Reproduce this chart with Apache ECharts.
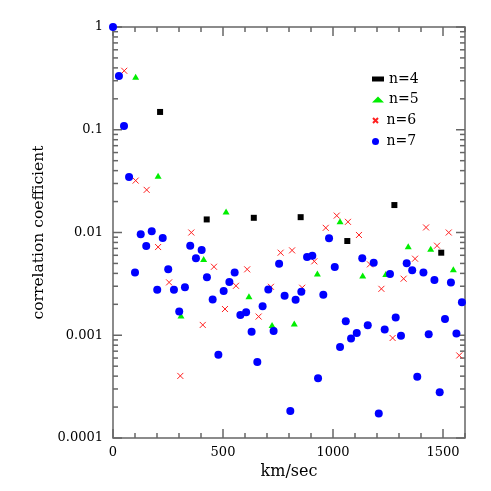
<!DOCTYPE html>
<html><head><meta charset="utf-8">
<script src="https://cdn.jsdelivr.net/npm/echarts@6/dist/echarts.min.js"></script>
<style>html,body{margin:0;padding:0;background:#fff}#c{width:491px;height:491px}</style>
</head><body><div id="c"></div>
<script>
// ---- data ----
const xN4 = [214, 426, 640, 853, 1065, 1279, 1492];
const yN4 = [0.149, 0.0134, 0.0139, 0.0141, 0.00826, 0.0185, 0.00636];

const xN5 = [103, 205, 309, 412, 514, 618, 723, 824, 929, 1032, 1135, 1240, 1342, 1444, 1547];
const yN5 = [0.328, 0.0356, 0.00156, 0.00552, 0.016, 0.00239, 0.00126, 0.0013, 0.004, 0.0129, 0.00382, 0.00394, 0.00734, 0.00695, 0.00438];

const xN6 = [51, 103, 153, 205, 255, 306, 356, 408, 459, 509, 559, 610, 662, 718, 762, 814, 860, 915, 967, 1017, 1068, 1118, 1168, 1220, 1271, 1321, 1373, 1423, 1473, 1526, 1574];
const yN6 = [0.375, 0.032, 0.026, 0.00722, 0.00327, 0.000402, 0.01, 0.00126, 0.00464, 0.0018, 0.00303, 0.00438, 0.00152, 0.00296, 0.00636, 0.0067, 0.0029, 0.00524, 0.0111, 0.0146, 0.0127, 0.00946, 0.0049, 0.00283, 0.00094, 0.00355, 0.00556, 0.0112, 0.00744, 0.01, 0.000636];

const xN7 = [0, 27, 50, 73, 100, 126, 151, 176, 201, 226, 251, 277, 301, 327, 351, 377, 403, 427, 453, 479, 503, 529, 553, 579, 605, 630, 656, 680, 706, 730, 755, 780, 806, 830, 856, 882, 906, 932, 956, 982, 1008, 1032, 1058, 1082, 1108, 1133, 1158, 1185, 1208, 1235, 1259, 1285, 1309, 1335, 1360, 1383, 1411, 1435, 1461, 1485, 1509, 1536, 1561, 1586];
const yN7 = [1, 0.333, 0.109, 0.0347, 0.00409, 0.0096, 0.00738, 0.0103, 0.00277, 0.00883, 0.00438, 0.00277, 0.0017, 0.00294, 0.00743, 0.0056, 0.00675, 0.00366, 0.00223, 0.000645, 0.00269, 0.0033, 0.00409, 0.00157, 0.00167, 0.00108, 0.00055, 0.00192, 0.00279, 0.0011, 0.00496, 0.00242, 0.000183, 0.00221, 0.00265, 0.00577, 0.00594, 0.000382, 0.00248, 0.00878, 0.00461, 0.00077, 0.00137, 0.00093, 0.00105, 0.0056, 0.00125, 0.00508, 0.000173, 0.00114, 0.00394, 0.00149, 0.00099, 0.00501, 0.00428, 0.000394, 0.00409, 0.00102, 0.00344, 0.000279, 0.00144, 0.00327, 0.00104, 0.00209];

const seriesNames = ['n=4', 'n=5', 'n=6', 'n=7'];

// ---- axis ranges, ticks, labels ----
const xRange = [0, 1600];
const yRange = [0.0001, 1];
const xMajorTicks = [0, 500, 1000, 1500];
const xMinorTicks = [100, 200, 300, 400, 600, 700, 800, 900, 1100, 1200, 1300, 1400, 1600];
const yMajorTicks = [0.0001, 0.001, 0.01, 0.1, 1];
const yTickLabels = ['0.0001', '0.001', '0.01', '0.1', '1'];
const yMinorMultipliers = [2, 3, 4, 5, 6, 7, 8, 9];
const yDecades = [0.0001, 0.001, 0.01, 0.1];

const FONT = 'DejaVu Serif';
const AXIS_COLOR = '#666666';
const MAJOR_LEN = 9, MINOR_LEN = 5;

const zip = (xs, ys) => xs.map((x, i) => [x, ys[i]]);
const yMinorTicks = [];
yDecades.forEach(d => yMinorMultipliers.forEach(m => yMinorTicks.push(m * d)));

function yLabel(v) {
  const e = Math.round(Math.log10(v));
  const i = yMajorTicks.findIndex(t => Math.round(Math.log10(t)) === e);
  return i >= 0 ? yTickLabels[i] : '';
}

const labelStyle = { color: '#000', fontFamily: FONT, fontSize: 13 };

// inside ticks on all four sides, positioned through the axes' scales (api.coord)
const xTickValues = xMajorTicks.concat(xMinorTicks);
const xTickLens = xMajorTicks.map(() => MAJOR_LEN).concat(xMinorTicks.map(() => MINOR_LEN));
const yTickValues = yMajorTicks.concat(yMinorTicks);
const yTickLens = yMajorTicks.map(() => MAJOR_LEN).concat(yMinorTicks.map(() => MINOR_LEN));
const xTickData = xTickValues.map(v => [v, yRange[0]]);
const yTickData = yTickValues.map(v => [xRange[0], v]);

function tickLine(x1, y1, x2, y2) {
  return { type: 'line', z2: 10, shape: { x1, y1, x2, y2 },
           style: { stroke: AXIS_COLOR, lineWidth: 1.5, fill: null } };
}
function renderXTick(params, api) {
  const x = xTickValues[params.dataIndex], len = xTickLens[params.dataIndex];
  const b = api.coord([x, yRange[0]]);
  const t = api.coord([x, yRange[1]]);
  return { type: 'group', children: [
    tickLine(b[0], b[1], b[0], b[1] - len),
    tickLine(t[0], t[1], t[0], t[1] + len)
  ] };
}
function renderYTick(params, api) {
  const y = yTickValues[params.dataIndex], len = yTickLens[params.dataIndex];
  const l = api.coord([xRange[0], y]);
  const r = api.coord([xRange[1], y]);
  return { type: 'group', children: [
    tickLine(l[0], l[1], l[0] + len, l[1]),
    tickLine(r[0], r[1], r[0] - len, r[1])
  ] };
}

const legendSizes = [5, 6, 5, 7];
const legendTops = [66, 86.5, 107.5, 128.5];

const chart = echarts.init(document.getElementById('c'), null, { renderer: 'canvas' });
chart.setOption({
  animation: false,
  backgroundColor: '#ffffff',
  grid: { left: 113, right: 26, top: 27, bottom: 53, containLabel: false, outerBoundsMode: 'none',
          show: true, borderColor: AXIS_COLOR, borderWidth: 1.5, backgroundColor: 'transparent' },
  xAxis: {
    type: 'value', position: 'bottom', min: xRange[0], max: xRange[1],
    axisLine: { show: false, onZero: false },
    axisTick: { show: false },
    axisLabel: Object.assign({ show: true, margin: 8, customValues: xMajorTicks, formatter: v => String(v) }, labelStyle),
    splitLine: { show: false },
    name: 'km/sec', nameLocation: 'middle', nameGap: 26,
    nameTextStyle: { color: '#000', fontFamily: FONT, fontSize: 16 }
  },
  yAxis: {
    type: 'log', logBase: 10, position: 'left', min: yRange[0], max: yRange[1],
    axisLine: { show: false, onZero: false },
    axisTick: { show: false },
    axisLabel: Object.assign({ show: true, margin: 10, formatter: yLabel }, labelStyle),
    splitLine: { show: false }, minorTick: { show: false },
    name: 'correlation coefficient', nameLocation: 'middle', nameGap: 62, nameRotate: 90,
    nameTextStyle: { color: '#000', fontFamily: FONT, fontSize: 15.5 }
  },
  legend: seriesNames.map((n, i) => ({
    data: [n], orient: 'vertical', left: 367, top: legendTops[i],
    itemWidth: 12, itemHeight: legendSizes[i], itemGap: 5, selectedMode: false,
    textStyle: { color: '#000', fontFamily: FONT, fontSize: 14, lineHeight: 16 }
  })),
  series: [
    { name: 'xticks', type: 'custom', silent: true, clip: false, z: 1,
      data: xTickData, renderItem: renderXTick },
    { name: 'yticks', type: 'custom', silent: true, clip: false, z: 1,
      data: yTickData, renderItem: renderYTick },
    { name: 'n=4', type: 'scatter', clip: false,
      data: zip(xN4, yN4), symbol: 'rect', symbolSize: 6, itemStyle: { color: '#000000', opacity: 1 } },
    { name: 'n=5', type: 'scatter', clip: false,
      data: zip(xN5, yN5), symbol: 'triangle', symbolSize: [7, 6], itemStyle: { color: '#00ee00', opacity: 1 } },
    { name: 'n=6', type: 'scatter', clip: false,
      data: zip(xN6, yN6), symbol: 'path://M0,0L10,10M10,0L0,10', symbolSize: 6,
      itemStyle: { color: 'rgba(0,0,0,0)', borderColor: '#ff2020', borderWidth: 1, opacity: 1 } },
    { name: 'n=7', type: 'scatter', clip: false,
      data: zip(xN7, yN7), symbol: 'circle', symbolSize: 8, itemStyle: { color: '#0000ff', opacity: 1 } }
  ]
});
</script>
</body></html>
